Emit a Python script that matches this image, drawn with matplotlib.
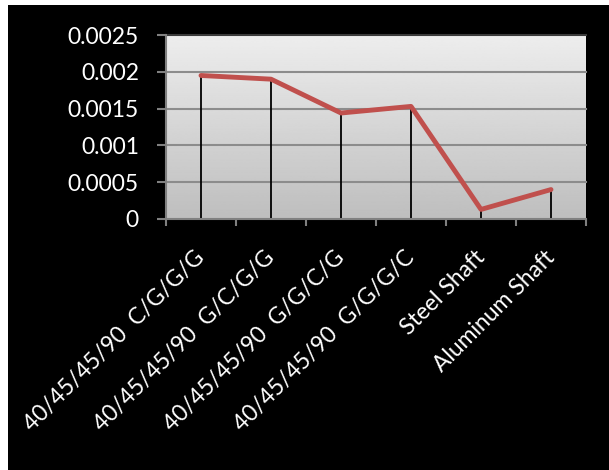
import numpy as np
import matplotlib.pyplot as plt
from matplotlib.patches import Rectangle
from matplotlib.transforms import ScaledTranslation

# data
labels = ['40/45/45/90  C/G/G/G', '40/45/45/90  G/C/G/G', '40/45/45/90  G/G/C/G',
          '40/45/45/90  G/G/G/C', 'Steel Shaft', 'Aluminum Shaft']
values = [0.00195, 0.0019, 0.00144, 0.00153, 0.00013, 0.0004]
yticks = [0, 0.0005, 0.001, 0.0015, 0.002, 0.0025]
ytick_labels = ['0', '0.0005', '0.001', '0.0015', '0.002', '0.0025']

plt.rcParams['font.family'] = ['Lato', 'DejaVu Sans']

fig = plt.figure(figsize=(6.09, 4.70), dpi=100, facecolor='white')
# black chart background, thin white margin on left/top
fig.patches.append(Rectangle((8/609, 0), 1, (470-5)/470, transform=fig.transFigure,
                             facecolor='black', edgecolor='none', zorder=-10))

ax = fig.add_axes([166/609, 1-219/470, 420/609, 184/470])
x = np.arange(len(values))
ax.set_xlim(-0.5, len(values)-0.5)
ax.set_ylim(0, 0.0025)

# gradient plot area
ax.imshow(np.linspace(0.745, 0.93, 256).reshape(-1, 1), cmap='gray', vmin=0, vmax=1,
          aspect='auto', extent=[-0.5, len(values)-0.5, 0, 0.0025], origin='lower', zorder=0)

for yv in yticks[1:]:
    ax.axhline(yv, color='#8c8c8c' if yv < 0.0025 else '#3a3a3a', lw=1.5, zorder=1, clip_on=False)

ax.vlines(x, 0, values, color='black', lw=1.3, zorder=2)
ax.plot(x, values, color='#c0504d', lw=3.5, solid_joinstyle='round', solid_capstyle='round', zorder=3)

for s in ['top', 'right']:
    ax.spines[s].set_visible(False)
for s in ['left', 'bottom']:
    ax.spines[s].set_color('#808080')
    ax.spines[s].set_linewidth(1.5)

ax.set_yticks(yticks)
ax.set_yticklabels(ytick_labels)
ax.tick_params(axis='y', colors='#808080', length=6.5, width=1.5, pad=13, labelcolor='white', labelsize=16.5)

ax.set_xticks(x)
ax.set_xticklabels(labels, rotation=45, ha='right', va='top', color='white', fontsize=16.5)
ax.tick_params(axis='x', which='major', length=0, pad=20)
off = ScaledTranslation(0.08, 0, fig.dpi_scale_trans)
for lbl in ax.get_xticklabels():
    lbl.set_transform(lbl.get_transform() + off)
ax.set_xticks(np.arange(len(values)+1)-0.5, minor=True)
ax.tick_params(axis='x', which='minor', colors='#808080', length=5, width=1.5)

fig.savefig('out.png', dpi=100, facecolor='white')
